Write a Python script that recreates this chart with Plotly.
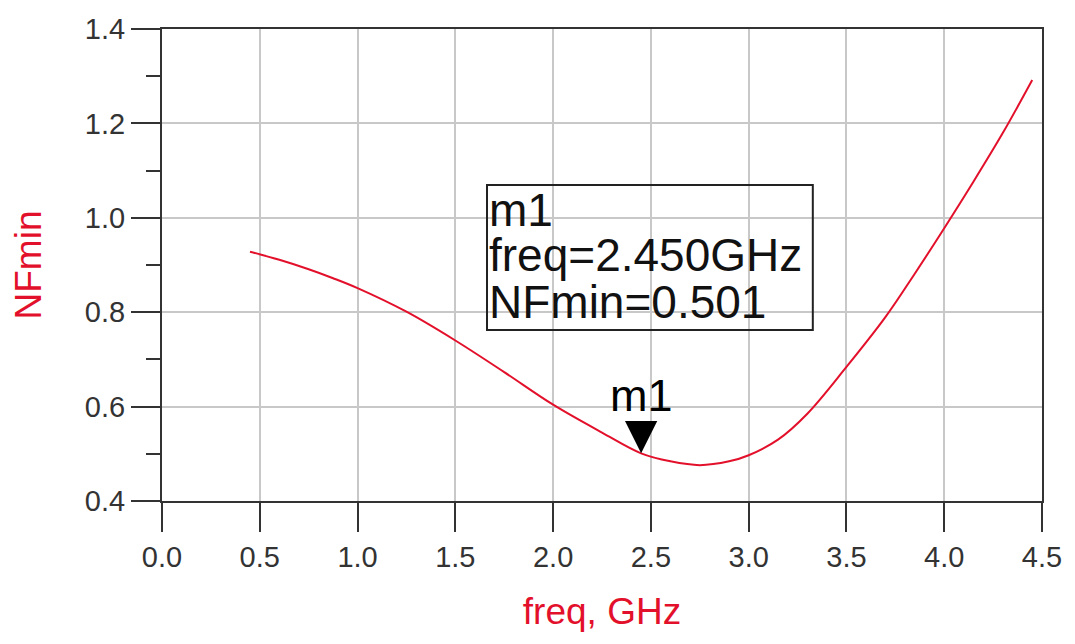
import plotly.graph_objects as go

# Curve data (freq in GHz, NFmin)
freq = [0.45, 0.6, 0.75, 0.875, 1.0, 1.25, 1.5, 1.75, 2.0, 2.25, 2.45, 2.6, 2.75, 2.9, 3.0, 3.15, 3.3, 3.5, 3.7, 3.85, 4.0, 4.15, 4.3, 4.45]
nfmin = [0.928, 0.911, 0.891, 0.872, 0.851, 0.801, 0.740, 0.673, 0.604, 0.545, 0.501, 0.484, 0.476, 0.484, 0.497, 0.530, 0.585, 0.684, 0.790, 0.882, 0.978, 1.077, 1.180, 1.292]

# Marker m1
marker_name = "m1"
marker_freq = 2.45
marker_nf = 0.501
box_lines = ["m1", "freq=2.450GHz", "NFmin=0.501"]

x_ticks = [0.0, 0.5, 1.0, 1.5, 2.0, 2.5, 3.0, 3.5, 4.0, 4.5]
y_ticks = [0.4, 0.6, 0.8, 1.0, 1.2, 1.4]

RED = "#e3102b"
DARK = "#333333"
FONT = "Liberation Sans, Arial, sans-serif"

fig = go.Figure()
fig.add_trace(go.Scatter(
    x=freq, y=nfmin, mode="lines",
    line=dict(color=RED, width=2, shape="spline", smoothing=1.0),
    showlegend=False, hoverinfo="skip",
))

# marker triangle + label
fig.add_annotation(
    x=marker_freq, y=marker_nf, xref="x", yref="y",
    text=marker_name, showarrow=True, ax=0, ay=-58,
    arrowhead=2, arrowsize=4.3, arrowwidth=1.5, arrowcolor="black",
    standoff=0, font=dict(family=FONT, size=45, color="black"),
)

# readout box
fig.add_shape(type="rect", xref="x", yref="y",
              x0=1.662, x1=3.328, y0=0.7623, y1=1.0695,
              line=dict(color="#222222", width=2), fillcolor="rgba(0,0,0,0)")
line_y = [1.0165, 0.9212, 0.8216]
for txt, yy in zip(box_lines, line_y):
    fig.add_annotation(x=1.664, y=yy, xref="x", yref="y", text=txt,
                       showarrow=False, xanchor="left", yanchor="middle",
                       font=dict(family=FONT, size=46, color="#111111"))

fig.update_layout(
    width=1067, height=636,
    margin=dict(l=154, r=33, t=21, b=143, autoexpand=False),
    paper_bgcolor="white", plot_bgcolor="white",
    showlegend=False,
)
fig.update_xaxes(
    range=[0, 4.5], tickvals=x_ticks, ticktext=[f"{v:.1f}" for v in x_ticks],
    showgrid=True, gridcolor="#c8c8c8", gridwidth=2, zeroline=False,
    showline=True, linecolor=DARK, linewidth=2, mirror=True,
    ticks="outside", ticklen=29, tickwidth=2, tickcolor=DARK,
    tickfont=dict(family=FONT, size=29, color=DARK), automargin=False,
    title=dict(text="freq, GHz", font=dict(family=FONT, size=37, color=RED), standoff=26),
)
fig.update_yaxes(
    range=[0.4, 1.4], tickvals=y_ticks, ticktext=[f"{v:.1f}" for v in y_ticks],
    showgrid=True, gridcolor="#c8c8c8", gridwidth=2, zeroline=False,
    showline=True, linecolor=DARK, linewidth=2, mirror=True,
    ticks="outside", ticklen=29, tickwidth=2, tickcolor=DARK,
    minor=dict(dtick=0.1, ticks="outside", ticklen=14, tickwidth=2, tickcolor=DARK, showgrid=False),
    tickfont=dict(family=FONT, size=29, color=DARK), automargin=False,
    title=dict(text="NFmin", font=dict(family=FONT, size=37, color=RED), standoff=44),
)

fig.write_html("out.html")
